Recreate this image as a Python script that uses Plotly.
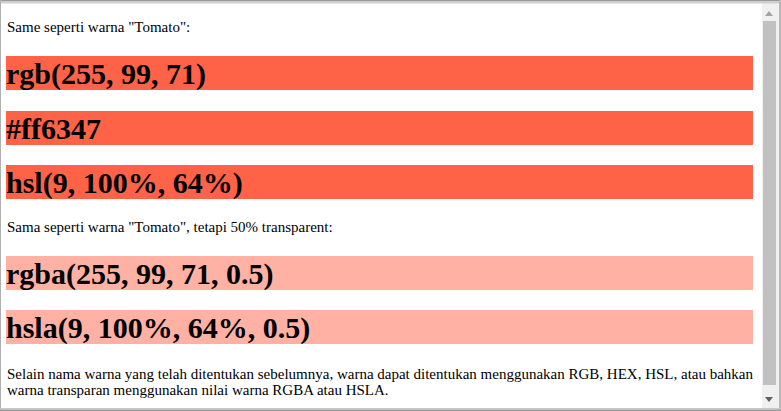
import plotly.graph_objects as go

# page content
intro_solid = 'Same seperti warna "Tomato":'
solid_labels = ["rgb(255, 99, 71)", "#ff6347", "hsl(9, 100%, 64%)"]
intro_alpha = 'Sama seperti warna "Tomato", tetapi 50% transparent:'
alpha_labels = ["rgba(255, 99, 71, 0.5)", "hsla(9, 100%, 64%, 0.5)"]
outro_lines = [
    "Selain nama warna yang telah ditentukan sebelumnya, warna dapat ditentukan "
    "menggunakan RGB, HEX, HSL, atau bahkan",
    "warna transparan menggunakan nilai warna RGBA atau HSLA.",
]

W, H = 781, 411
LEFT, RIGHT = 6, 753
BAR_H = 34
BAR_GAP = 20.5
P_TO_BAR = 29
BAR_TO_P = 27.5
BAR_TO_OUTRO = 30
LINE_H = 16
SERIF = "Liberation Serif, Times New Roman, serif"

# simple block flow, top to bottom
blocks = []  # (kind, text, center_y)
y = 27
blocks.append(("p", intro_solid, y))
top = y + P_TO_BAR
for lab in solid_labels:
    blocks.append(("h", lab, top + BAR_H / 2))
    top += BAR_H + BAR_GAP
y = top - BAR_GAP + BAR_TO_P
blocks.append(("p", intro_alpha, y))
top = y + P_TO_BAR
for lab in alpha_labels:
    blocks.append(("h", lab, top + BAR_H / 2))
    top += BAR_H + BAR_GAP
y = top - BAR_GAP + BAR_TO_OUTRO
for line in outro_lines:
    blocks.append(("p", line, y))
    y += LINE_H

bars = [b for b in blocks if b[0] == "h"]

fig = go.Figure()
fig.add_trace(go.Bar(
    orientation="h",
    y=[b[2] for b in bars],
    x=[RIGHT - LEFT] * len(bars),
    base=[LEFT] * len(bars),
    width=[BAR_H] * len(bars),
    marker=dict(color=[b[1] for b in bars], line=dict(width=0)),
    hoverinfo="skip",
    showlegend=False,
))

# annotation boxes carry ~2px of padding, so pull them left a bit
annotations = []
for kind, text, cy in blocks:
    if kind == "h":
        annotations.append(dict(
            x=LEFT - 2, y=cy + 1, text="<b>" + text + "</b>",
            font=dict(family=SERIF, size=30, color="#000"),
        ))
    else:
        annotations.append(dict(
            x=LEFT - 1.5, y=cy, text=text,
            font=dict(family=SERIF, size=15, color="#000"),
        ))
for a in annotations:
    a.update(xref="x", yref="y", xanchor="left", yanchor="middle",
             showarrow=False)

# window frame and scrollbar
shapes = [
    dict(type="rect", x0=762, x1=779, y0=3, y1=408, fillcolor="#f0f0f0", line_width=0),
    dict(type="rect", x0=763, x1=776, y0=21, y1=385, fillcolor="#c1c1c1", line_width=0),
    dict(type="path", path="M 765 16 L 773 16 L 769 11 Z", fillcolor="#a3a3a3", line_width=0),
    dict(type="path", path="M 765 397 L 773 397 L 769 402 Z", fillcolor="#606060", line_width=0),
    dict(type="rect", x0=0, x1=W, y0=0, y1=1.5, fillcolor="#9a9a9a", line_width=0),
    dict(type="rect", x0=0, x1=W, y0=1.5, y1=3.5, fillcolor="#cfcfcf", line_width=0),
    dict(type="rect", x0=0, x1=1, y0=0, y1=H, fillcolor="#b0b0b0", line_width=0),
    dict(type="rect", x0=779, x1=W, y0=0, y1=H, fillcolor="#b8b8b8", line_width=0),
    dict(type="rect", x0=0, x1=W, y0=408, y1=409.5, fillcolor="#c8c8c8", line_width=0),
    dict(type="rect", x0=0, x1=W, y0=409.5, y1=H, fillcolor="#9a9a9a", line_width=0),
]

fig.update_layout(
    width=W, height=H,
    margin=dict(l=0, r=0, t=0, b=0),
    paper_bgcolor="white", plot_bgcolor="white",
    xaxis=dict(range=[0, W], visible=False, fixedrange=True),
    yaxis=dict(range=[H, 0], visible=False, fixedrange=True),
    annotations=annotations,
    shapes=shapes,
    bargap=0,
)

# drop the default 8px body margin so the figure fills the window
fig.write_html("out.html", config={"displayModeBar": False},
               post_script="document.body.style.margin='0';"
                           "document.body.style.overflow='hidden';")
